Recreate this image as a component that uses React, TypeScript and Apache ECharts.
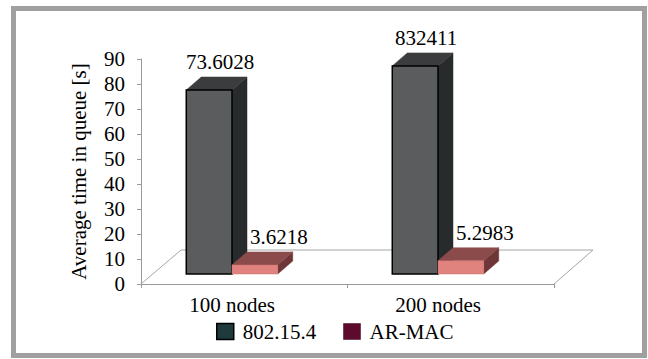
import React, { useEffect, useRef } from "react";
import * as echarts from "echarts";

const categories = ["100 nodes", "200 nodes"];
const seriesNames = ["802.15.4", "AR-MAC"];
const valuesA = [73.6028, 83.2411];
const valuesB = [3.6218, 5.2983];
const labelsA = ["73.6028", "832411"];
const labelsB = ["3.6218", "5.2983"];
const yTicks = { min: 0, max: 90, interval: 10 };

const FONT = "'Liberation Serif', 'Times New Roman', 'DejaVu Serif', serif";
const DX = 15;
const DY = -13;

const faces = [
  { front: "#5b5c5e", top: "#3a3c3d", side: "#272b2c", border: "#000000", bw: 1.5, labelDx: 11 },
  { front: "#e0837e", top: "#8c4b4b", side: "#6e3636", border: "#c97470", bw: 0.5, labelDx: 24 },
];

function makeBarRender(s: number, labels: string[]) {
  return (params: any, api: any) => {
    const cat = api.value(0);
    const val = api.value(1);
    const base = api.coord([cat, 0]);
    const top = api.coord([cat, val]);
    const band = api.size([1, 0])[0];
    const w = band * 0.222;
    const xl = base[0] - w + s * w;
    const xr = xl + w;
    const yb = base[1];
    const yt = top[1];
    const f = faces[s];
    return {
      type: "group",
      children: [
        {
          type: "polygon",
          shape: { points: [[xr, yt], [xr + DX, yt + DY], [xr + DX, yb + DY], [xr, yb]] },
          style: { fill: f.side, stroke: f.side, lineWidth: 0.5 },
        },
        {
          type: "polygon",
          shape: { points: [[xl, yt], [xl + DX, yt + DY], [xr + DX, yt + DY], [xr, yt]] },
          style: { fill: f.top, stroke: f.top, lineWidth: 0.5 },
        },
        {
          type: "rect",
          shape: { x: xl, y: yt, width: w, height: yb - yt },
          style: { fill: f.front, stroke: f.border, lineWidth: f.bw },
        },
        {
          type: "text",
          style: {
            text: labels[params.dataIndex],
            x: (xl + xr) / 2 + f.labelDx,
            y: yt + DY - 15,
            fill: "#000",
            fontFamily: FONT,
            fontSize: 21,
            align: "center",
            verticalAlign: "middle",
          },
        },
      ],
    };
  };
}

function floorRender(params: any, api: any) {
  const cs = params.coordSys;
  const x0 = cs.x;
  const y0 = cs.y + cs.height;
  const x1 = cs.x + cs.width;
  return {
    type: "polyline",
    shape: { points: [[x0, y0], [x0 + 40, y0 - 34], [x1 + 39, y0 - 34], [x1, y0]] },
    style: { stroke: "#a6a6a6", lineWidth: 1, fill: "none" },
  };
}

export default function App() {
  const ref = useRef<HTMLDivElement>(null);
  useEffect(() => {
    if (!ref.current) return;
    const chart = echarts.init(ref.current, undefined, { renderer: "svg" });
    chart.setOption({
      animation: false,
      backgroundColor: "#ffffff",
      textStyle: { fontFamily: FONT },
      graphic: [
        {
          type: "rect",
          shape: { x: 13.5, y: 8.5, width: 631, height: 347 },
          style: { fill: "none", stroke: "#a0a0a0", lineWidth: 5 },
          z: 0,
        },
      ],
      grid: [
        { left: 141, right: 94, top: 59, bottom: 75 },
        { left: 129, right: 107, top: 49, bottom: 85 },
      ],
      legend: {
        left: 216,
        top: 321,
        itemWidth: 17,
        itemHeight: 16,
        itemGap: 27,
        padding: 0,
        icon: "rect",
        textStyle: { fontFamily: FONT, fontSize: 21, color: "#000", padding: [0, 0, 0, 4] },
        data: [
          { name: seriesNames[0], itemStyle: { color: "#1f3a3c", borderColor: "#000", borderWidth: 1.5 } },
          { name: seriesNames[1], itemStyle: { color: "#5e0a2c", borderColor: "#3a0018", borderWidth: 0.5 } },
        ],
      },
      xAxis: [
        {
          gridIndex: 0,
          type: "category",
          data: categories,
          axisLine: { lineStyle: { color: "#9a9a9a", width: 1 } },
          axisTick: { show: true, length: 4, lineStyle: { color: "#9a9a9a" } },
          axisLabel: { show: false },
        },
        {
          gridIndex: 1,
          type: "category",
          data: categories,
          axisLine: { show: false },
          axisTick: { show: false },
          axisLabel: { fontFamily: FONT, fontSize: 21, color: "#000", margin: 20 },
        },
      ],
      yAxis: [
        {
          gridIndex: 0,
          type: "value",
          min: yTicks.min,
          max: yTicks.max,
          interval: yTicks.interval,
          axisLine: { show: true, lineStyle: { color: "#9a9a9a", width: 1 } },
          axisTick: { show: true, length: 4, lineStyle: { color: "#9a9a9a" } },
          splitLine: { show: false },
          axisLabel: { fontFamily: FONT, fontSize: 21, color: "#000", margin: 16 },
          name: "Average time in queue [s]",
          nameLocation: "middle",
          nameRotate: 90,
          nameGap: 52,
          nameTextStyle: { fontFamily: FONT, fontSize: 21, color: "#000" },
        },
        {
          gridIndex: 1,
          type: "value",
          min: yTicks.min,
          max: yTicks.max,
          interval: yTicks.interval,
          show: false,
        },
      ],
      series: [
        {
          type: "custom",
          name: "floor",
          xAxisIndex: 0,
          yAxisIndex: 0,
          silent: true,
          z: 1,
          renderItem: floorRender,
          data: [[0, 0]],
        },
        {
          type: "custom",
          name: seriesNames[0],
          xAxisIndex: 1,
          yAxisIndex: 1,
          z: 2,
          itemStyle: { color: "#1f3a3c" },
          renderItem: makeBarRender(0, labelsA),
          data: valuesA.map((v, i) => [i, v]),
        },
        {
          type: "custom",
          name: seriesNames[1],
          xAxisIndex: 1,
          yAxisIndex: 1,
          z: 3,
          itemStyle: { color: "#5e0a2c" },
          renderItem: makeBarRender(1, labelsB),
          data: valuesB.map((v, i) => [i, v]),
        },
      ],
    });
    return () => chart.dispose();
  }, []);
  return (
    <div
      ref={ref}
      style={{ position: "fixed", left: 0, top: 0, width: 648, height: 359, background: "#fff" }}
    />
  );
}
